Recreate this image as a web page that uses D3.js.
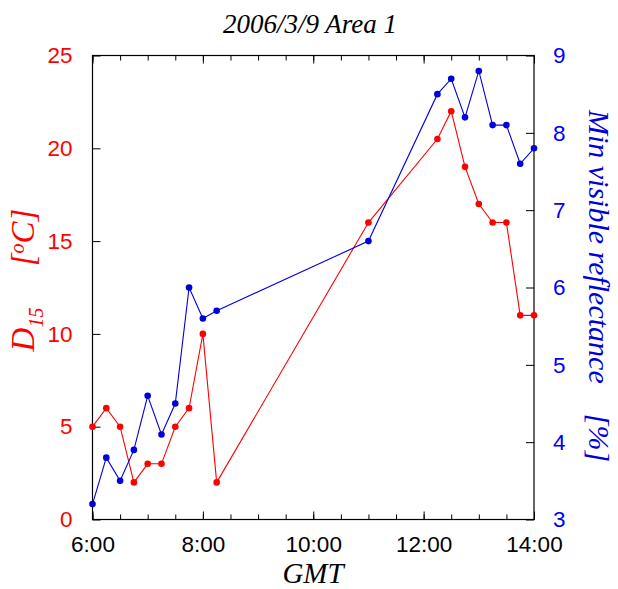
<!DOCTYPE html>
<html>
<head>
<meta charset="utf-8">
<script src="https://cdn.jsdelivr.net/npm/d3@7"></script>
<style>
  body { margin: 0; background: #fff; }
  svg { display: block; }
</style>
</head>
<body>
<svg id="chart" width="618" height="589"></svg>
<script>
// observation times (GMT)
const times = ["6:00", "6:15", "6:30", "6:45", "7:00", "7:15", "7:30", "7:45", "8:00", "8:15",
  "11:00", "12:15", "12:30", "12:45", "13:00", "13:15", "13:30", "13:45", "14:00"];
// D15 [oC], left axis
const d15 = [5, 6, 5, 2, 3, 3, 5, 6, 10, 2, 16, 20.5, 22, 19, 17, 16, 16, 11, 11];
// min visible reflectance [%], right axis
const minRefl = [3.2, 3.8, 3.5, 3.9, 4.6, 4.1, 4.5, 6.0, 5.6, 5.7, 6.6, 8.5, 8.7, 8.2, 8.8, 8.1, 8.1, 7.6, 7.8];
const xTicks = [6, 8, 10, 12, 14];
const leftTicks = [0, 5, 10, 15, 20, 25];
const rightTicks = [3, 4, 5, 6, 7, 8, 9];

const RED = "#ff0000";
const BLUE = "#0000dd";

// "h:mm" -> decimal hours
const toHours = s => { const [h, m] = s.split(":").map(Number); return h + m / 60; };

const svg = d3.select("#chart");
const margin = {top: 55.5, left: 92.5, right: 84, bottom: 69.5};
const width = 618 - margin.left - margin.right;
const height = 589 - margin.top - margin.bottom;

const g = svg.append("g").attr("transform", `translate(${margin.left},${margin.top})`);

const x = d3.scaleLinear().domain([6, 14]).range([0, width]);
const yL = d3.scaleLinear().domain([0, 25]).range([height, 0]);
const yR = d3.scaleLinear().domain([3, 9]).range([height, 0]);

const fmt = h => `${h}:00`;
const minorX = d3.range(6, 14.01, 0.5);

// axes: ticks point inward
function style(sel, color) {
  sel.select(".domain").remove();
  sel.selectAll("line").attr("stroke", "#000").attr("stroke-width", 1);
  sel.selectAll("text").attr("fill", color)
    .style("font-family", "'Liberation Sans', Arial, sans-serif").style("font-size", "22.5px");
}

g.append("g").attr("transform", `translate(0,${height})`)
  .call(d3.axisBottom(x).tickValues(minorX).tickSize(-5).tickFormat(""))
  .call(s => style(s, "#000"));
g.append("g").attr("transform", `translate(0,${height})`)
  .call(d3.axisBottom(x).tickValues(xTicks).tickSize(-8).tickPadding(17).tickFormat(fmt))
  .call(s => style(s, "#000"));
g.append("g")
  .call(d3.axisTop(x).tickValues(minorX).tickSize(-5).tickFormat(""))
  .call(s => style(s, "#000"));
g.append("g")
  .call(d3.axisTop(x).tickValues(xTicks).tickSize(-8).tickFormat(""))
  .call(s => style(s, "#000"));

g.append("g")
  .call(d3.axisLeft(yL).tickValues(leftTicks).tickSize(-8).tickPadding(20))
  .call(s => style(s, RED));
g.append("g").attr("transform", `translate(${width},0)`)
  .call(d3.axisRight(yR).tickValues(rightTicks).tickSize(-8).tickPadding(19).tickFormat(d3.format("d")))
  .call(s => style(s, "#0000ff"));

g.append("rect").attr("width", width).attr("height", height)
  .attr("fill", "none").attr("stroke", "#000").attr("stroke-width", 1.2);

// series
const red = times.map((t, i) => ({t: toHours(t), v: d15[i]}));
const blue = times.map((t, i) => ({t: toHours(t), v: minRefl[i]}));

function drawSeries(data, yScale, color) {
  g.append("path").datum(data)
    .attr("fill", "none").attr("stroke", color).attr("stroke-width", 1.1)
    .attr("d", d3.line().x(d => x(d.t)).y(d => yScale(d.v)));
  g.selectAll(null).data(data).enter().append("circle")
    .attr("cx", d => x(d.t)).attr("cy", d => yScale(d.v)).attr("r", 3.3)
    .attr("fill", color);
}
drawSeries(red, yL, RED);
drawSeries(blue, yR, BLUE);

// titles
const serif = "'Liberation Serif', 'Times New Roman', serif";
svg.append("text").attr("x", 310).attr("y", 33).attr("text-anchor", "middle")
  .style("font-family", serif).style("font-style", "italic").style("font-size", "27px")
  .text("2006/3/9 Area 1");

svg.append("text").attr("x", 313).attr("y", 583).attr("text-anchor", "middle")
  .style("font-family", serif).style("font-style", "italic").style("font-size", "29px")
  .text("GMT");

const ly = svg.append("text").attr("transform", "translate(34,280) rotate(-90)")
  .attr("text-anchor", "middle").attr("fill", RED)
  .style("font-family", serif).style("font-style", "italic").style("font-size", "33px");
ly.append("tspan").text("D");
ly.append("tspan").attr("dy", 9).style("font-size", "20px").text("15");
ly.append("tspan").attr("dy", -9).text("\u00a0\u00a0\u00a0\u00a0\u00a0[");
ly.append("tspan").attr("dy", -10).style("font-size", "20px").text("o");
ly.append("tspan").attr("dy", 10).text("C]");

svg.append("text").attr("transform", "translate(589,286) rotate(90)")
  .attr("text-anchor", "middle").attr("fill", BLUE)
  .style("font-family", serif).style("font-style", "italic").style("font-size", "30px")
  .text("Min visible reflectance\u00a0\u00a0\u00a0\u00a0[%]");
</script>
</body>
</html>
